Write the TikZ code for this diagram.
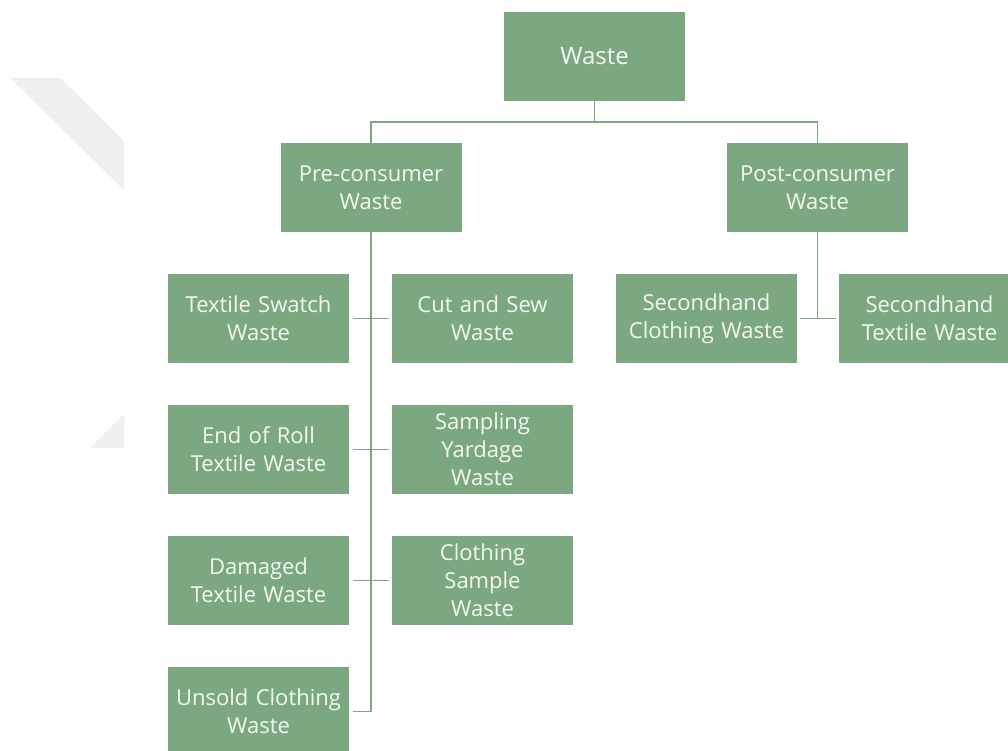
\documentclass[tikz,border=0pt]{standalone}
\usepackage{fontspec}
\setmainfont{Open Sans}
\definecolor{boxgreen}{HTML}{7BA880}
\definecolor{linegreen}{HTML}{7DA682}
\definecolor{boxtext}{HTML}{F4F7F0}
\definecolor{markgray}{HTML}{EFEFEF}

\begin{document}
\begin{tikzpicture}[x=1pt,y=-1pt,
  catbox/.style={fill=boxgreen, draw=none, minimum width=181pt, minimum height=89pt,
    text width=180pt, align=center, text=boxtext, inner sep=0pt,
    font=\fontsize{22}{28}\selectfont},
  rootbox/.style={catbox, font=\fontsize{24}{30}\selectfont},
  link/.style={draw=linegreen, line width=1.5pt}]
\useasboundingbox (0,0) rectangle (1008,751);

% faint background marks
\fill[markgray] (10,78) -- (60,78) -- (124,141) -- (124,190) -- cycle;
\fill[markgray] (90,448) -- (124,414) -- (124,448) -- cycle;

% top level
\node[rootbox] (waste) at (594.5,56.5) {Waste};
\node[catbox] (pre)   at (371,187.5) {Pre-consumer\\Waste};
\node[catbox] (post)  at (817.5,187.5) {Post-consumer\\Waste};

% pre-consumer categories
\node[catbox] (swatch)  at (258.5,318.5) {Textile Swatch\\Waste};
\node[catbox] (cutsew)  at (482.5,318.5) {Cut and Sew\\Waste};
\node[catbox] (endroll) at (258.5,449.5) {End of Roll\\Textile Waste};
\node[catbox] (yardage) at (482.5,449.5) {Sampling\\Yardage\\Waste};
\node[catbox] (damaged) at (258.5,580.5) {Damaged\\Textile Waste};
\node[catbox] (sample)  at (482.5,580.5) {Clothing\\Sample\\Waste};
\node[catbox] (unsold)  at (258.5,711.5) {Unsold Clothing\\Waste};

% post-consumer categories
\node[catbox] (shcloth) at (706.5,318.5) {Secondhand\\Clothing Waste};
\node[catbox] (shtext)  at (929.5,318.5) {Secondhand\\Textile Waste};

% connectors
\coordinate (bus) at (0,122);
\draw[link] (waste.south) -- (waste.south |- bus);
\draw[link] (pre.north) -- (pre.north |- bus) -- (post.north |- bus) -- (post.north);

\draw[link] (pre.south) -- (pre.south |- unsold.east) -- ([xshift=4pt]unsold.east);
\draw[link] ([xshift=4pt]swatch.east)  -- ([xshift=-3pt]cutsew.west);
\draw[link] ([xshift=4pt]endroll.east) -- ([xshift=-3pt]yardage.west);
\draw[link] ([xshift=4pt]damaged.east) -- ([xshift=-3pt]sample.west);

\draw[link] (post.south) -- (post.south |- shcloth.east);
\draw[link] ([xshift=3pt]shcloth.east) -- ([xshift=-3pt]shtext.west);
\end{tikzpicture}
\end{document}
